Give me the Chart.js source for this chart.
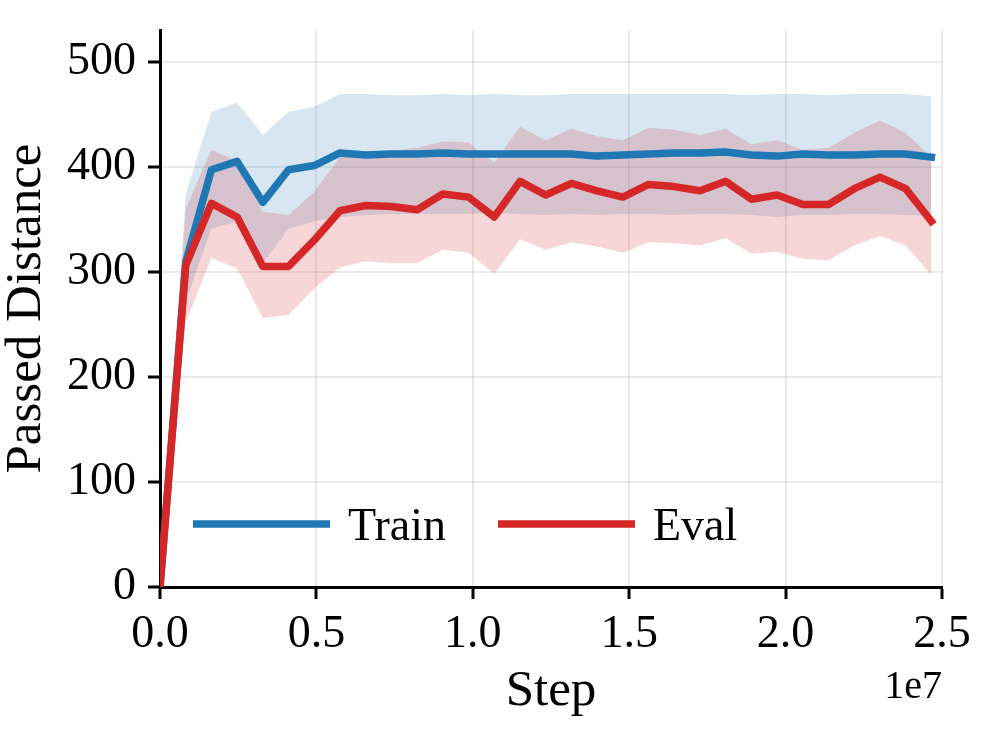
<!DOCTYPE html>
<html>
<head>
<meta charset="utf-8">
<script src="https://cdn.jsdelivr.net/npm/chart.js@4.4.1/dist/chart.umd.min.js"></script>
<style>
  html, body { margin: 0; padding: 0; background: #fff; }
  #wrap { width: 1002px; height: 750px; }
</style>
</head>
<body>
<div id="wrap"><canvas id="lineGraph" width="1002" height="750"></canvas></div>
<script>
// training steps (x values)
var steps = [0, 822000, 1644000, 2466000, 3288000, 4110000, 4932000, 5754000,
             6576000, 7398000, 8220000, 9042000, 9864000, 10686000, 11508000,
             12330000, 13152000, 13974000, 14796000, 15618000, 16440000,
             17262000, 18084000, 18906000, 19728000, 20550000, 21372000,
             22194000, 23016000, 23838000, 24660000];

var trainMean  = [0, 309, 397, 405, 366, 397, 401, 413, 411, 412, 412, 413, 412, 412, 412,
                  412, 412, 410, 411, 412, 413, 413, 414, 411, 410, 412, 411, 411, 412, 412, 409];
var trainUpper = [0, 374, 452, 461, 430, 452, 457, 469, 469, 468, 468, 469, 468, 469, 468,
                  468, 469, 469, 469, 469, 469, 469, 469, 468, 469, 469, 468, 469, 469, 469, 467];
var trainLower = [0, 272, 341, 348, 308, 341, 348, 352, 354, 355, 355, 355, 355, 356, 355,
                  354, 355, 354, 355, 355, 354, 355, 355, 354, 352, 354, 354, 355, 355, 354, 353];

var evalMean  = [0, 306, 365, 352, 305, 305, 330, 358, 363, 362, 359, 374, 371, 352, 386,
                 373, 384, 377, 371, 383, 381, 377, 386, 369, 373, 364, 364, 379, 390, 379, 348];
var evalUpper = [0, 360, 416, 405, 357, 354, 376, 409, 412, 415, 418, 424, 423, 404, 438,
                 425, 436, 429, 425, 437, 435, 430, 436, 421, 425, 416, 418, 432, 444, 432, 409];
var evalLower = [0, 252, 313, 303, 256, 259, 284, 304, 310, 308, 308, 321, 318, 298, 331,
                 321, 328, 324, 318, 328, 327, 325, 332, 317, 319, 312, 311, 325, 334, 325, 297];

var yTicks = [0, 100, 200, 300, 400, 500];

var serif = '"Liberation Serif", "Times New Roman", "DejaVu Serif", serif';

function pts(vals) {
  return steps.map(function (s, i) { return {x: s, y: vals[i]}; });
}

function line(label, vals, color) {
  return {label: label, data: pts(vals), borderColor: color, borderWidth: 7.5,
          pointRadius: 0, fill: false, borderJoinStyle: 'round', borderCapStyle: 'square'};
}

function band(vals, fill, color) {
  return {label: '', data: pts(vals), borderColor: 'rgba(0,0,0,0)', borderWidth: 0,
          pointRadius: 0, fill: fill, backgroundColor: color};
}

// legend inside the plot + the "1e7" offset text
var extras = {
  id: 'extras',
  afterDraw: function (chart) {
    var ctx = chart.ctx, a = chart.chartArea;
    ctx.save();
    ctx.font = '46px ' + serif;
    ctx.fillStyle = '#000';
    ctx.textBaseline = 'alphabetic';
    var items = [chart.data.datasets[1], chart.data.datasets[0]];
    var x = a.left + 33, y = a.bottom - 63;
    items.forEach(function (ds) {
      ctx.strokeStyle = ds.borderColor;
      ctx.lineWidth = 7.5;
      ctx.beginPath();
      ctx.moveTo(x, y);
      ctx.lineTo(x + 137, y);
      ctx.stroke();
      ctx.fillText(ds.label, x + 155, y + 16);
      x += 305;
    });
    ctx.font = '40px ' + serif;
    ctx.textAlign = 'right';
    ctx.fillText('1e7', a.right, 698);
    ctx.restore();
  }
};

var ctx_line = document.getElementById('lineGraph').getContext('2d');

var options = {
  responsive: false,
  animation: false,
  events: [],
  layout: {padding: {top: 30, right: 60, left: 0, bottom: 0}},
  plugins: {legend: {display: false}, tooltip: {enabled: false}},
  scales: {
    x: {
      type: 'linear', min: 0, max: 25000000,
      ticks: {stepSize: 5000000, color: '#000', padding: 8, maxRotation: 0, autoSkip: false,
              font: {family: serif, size: 46},
              callback: function (v) { return (v / 1e7).toFixed(1); }},
      grid: {color: 'rgba(0,0,0,0.08)', lineWidth: 2, tickColor: '#000', tickWidth: 3, tickLength: 12},
      border: {color: '#000', width: 3},
      title: {display: true, text: 'Step', color: '#000', font: {family: serif, size: 51},
              padding: {top: 0, bottom: 28}},
      afterFit: function (s) { s.height = 163; s.paddingLeft = 0; s.paddingRight = 0; }
    },
    y: {
      type: 'linear', min: 0, max: 530,
      ticks: {stepSize: 100, color: '#000', padding: 12, font: {family: serif, size: 46}},
      afterBuildTicks: function (s) {
        s.ticks = yTicks.map(function (v) { return {value: v}; });
      },
      grid: {color: 'rgba(0,0,0,0.08)', lineWidth: 2, tickColor: '#000', tickWidth: 3, tickLength: 12},
      border: {color: '#000', width: 3},
      title: {display: true, text: 'Passed Distance', color: '#000', font: {family: serif, size: 51},
              padding: {top: -4, bottom: 0}},
      afterFit: function (s) { s.width = 160; s.paddingTop = 0; s.paddingBottom = 0; }
    }
  }
};

var myLineChart = new Chart(ctx_line, {
  type: 'line',
  data: {
    datasets: [
      line('Eval', evalMean, '#d62728'),
      line('Train', trainMean, '#1f77b4'),
      band(evalUpper, '+1', 'rgba(214,39,40,0.19)'),
      band(evalLower, false, 'rgba(0,0,0,0)'),
      band(trainUpper, '+1', 'rgba(31,119,180,0.18)'),
      band(trainLower, false, 'rgba(0,0,0,0)')
    ]
  },
  options: options,
  plugins: [extras]
});
</script>
</body>
</html>
